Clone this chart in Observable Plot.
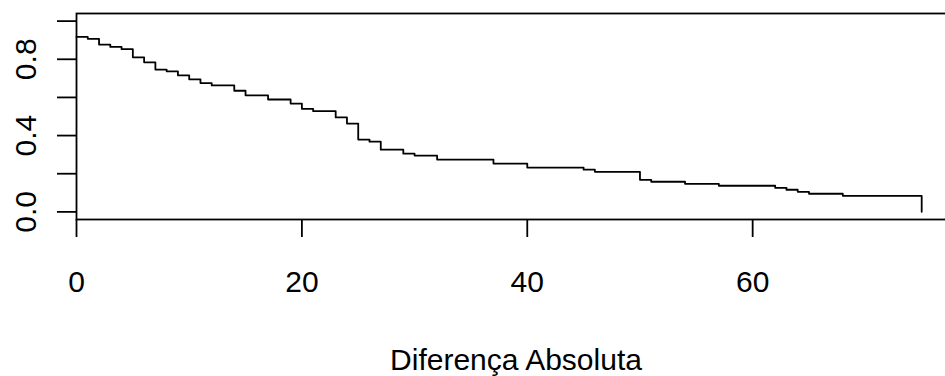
<!DOCTYPE html>
<html>
<head>
<meta charset="utf-8">
<script src="https://cdn.jsdelivr.net/npm/d3@7"></script>
<script src="https://cdn.jsdelivr.net/npm/@observablehq/plot@0.6"></script>
<style>
  html, body { margin: 0; padding: 0; background: white; overflow: hidden; }
</style>
</head>
<body>
<div id="chart"></div>
<script>
// Step survival-type curve: x where each step starts, and level after step
const stepX = [0,1,2,3,4,5,6,7,8,9,10,11,12,14,15,17,19,20,21,23,24,25,26,27,29,30,32,37,40,45,46,50,51,54,57,62,63,64,65,68,75];
const stepY = [0.917,0.907,0.877,0.865,0.853,0.810,0.784,0.746,0.737,0.716,0.695,0.675,0.663,0.635,0.611,0.589,0.568,0.540,0.528,0.495,0.463,0.379,0.368,0.326,0.305,0.295,0.274,0.253,0.232,0.221,0.210,0.168,0.158,0.147,0.137,0.126,0.116,0.105,0.095,0.084,0];
const xTicks = [0, 20, 40, 60];
const yTicks = [0, 0.2, 0.4, 0.6, 0.8, 1.0];
const yTickLabels = ["0.0", "", "0.4", "", "0.8", ""];
const xLabel = "Diferença Absoluta";

const data = stepX.map((x, i) => ({x, y: stepY[i]}));

const chart = Plot.plot({
  width: 945,
  height: 376,
  marginLeft: 76,
  marginRight: -10,
  marginTop: 13,
  marginBottom: 157,
  x: {domain: [0, 78]},
  y: {domain: [-0.04, 1.04]},
  style: {fontFamily: "'Liberation Sans', Arial, Helvetica, sans-serif", fontSize: "30px", color: "black", background: "white"},
  marks: [
    Plot.frame({stroke: "black", strokeWidth: 1.8}),
    Plot.axisX({ticks: xTicks, tickSize: 18, tickPadding: 33, fontSize: 30, strokeWidth: 1.8,
      label: xLabel, labelAnchor: "center", labelOffset: 150.5, labelArrow: "none", tickFormat: d => String(d)}),
    Plot.axisY({ticks: yTicks, tickSize: 19, tickPadding: 22, tickRotate: -90, fontSize: 30, strokeWidth: 1.8,
      tickFormat: d => yTickLabels[yTicks.findIndex(t => Math.abs(t - d) < 1e-9)] ?? "", label: null}),
    Plot.line(data, {x: "x", y: "y", curve: "step-after", stroke: "black", strokeWidth: 1.8})
  ]
});
document.getElementById("chart").appendChild(chart);
</script>
</body>
</html>
